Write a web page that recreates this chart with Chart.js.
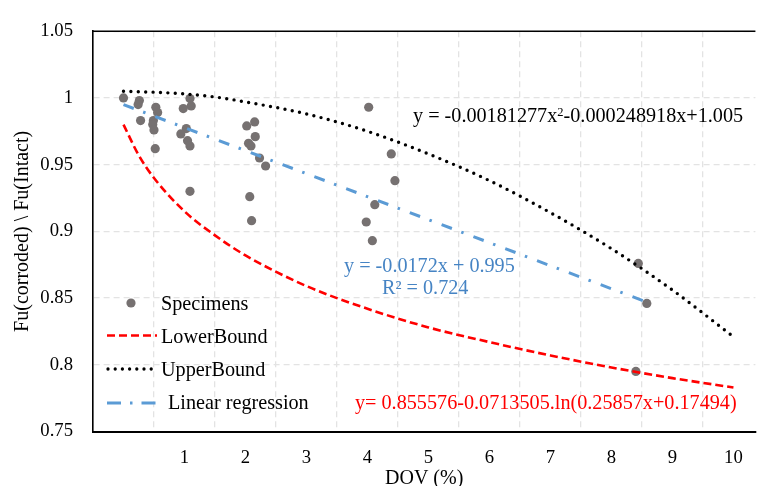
<!DOCTYPE html>
<html>
<head>
<meta charset="utf-8">
<script src="https://cdn.jsdelivr.net/npm/chart.js@4.4.1/dist/chart.umd.min.js"></script>
<style>
  html, body { margin: 0; padding: 0; background: #fff; }
  #wrap { position: relative; width: 760px; height: 486px; overflow: hidden; font-family: 'Liberation Serif', 'Times New Roman', serif; }
  #report_chart { position: absolute; left: 0; top: 0; }
  .lbl { position: absolute; white-space: nowrap; font-size: 20.2px; line-height: 24px; color: #000; }
  .sup { font-size: 0.62em; position: relative; top: -0.5em; }
  svg { position: absolute; left: 0; top: 0; }
</style>
</head>
<body>
<div id="wrap">
  <canvas id="report_chart" width="760" height="486"></canvas>
  <svg width="760" height="486">
    <circle cx="131" cy="303" r="4.6" fill="#767171"></circle>
    <line x1="107" y1="335.5" x2="157" y2="335.5" stroke="#ff0000" stroke-width="2.6" stroke-dasharray="8 4"></line>
    <line x1="108" y1="369" x2="157" y2="369" stroke="#000" stroke-width="3.3" stroke-linecap="round" stroke-dasharray="0 7.2"></line>
    <line x1="107" y1="403" x2="157" y2="403" stroke="#5b9bd5" stroke-width="3" stroke-dasharray="14 9 2.5 9"></line>
  </svg>
  <div class="lbl" style="left:161px; top:291px;">Specimens</div>
  <div class="lbl" style="left:161px; top:324px;">LowerBound</div>
  <div class="lbl" style="left:161px; top:357px;">UpperBound</div>
  <div class="lbl" style="left:168px; top:390px;">Linear regression</div>

  <div class="lbl" style="left:413px; top:103px;">y = -0.00181277x<span class="sup">2</span>-0.000248918x+1.005</div>
  <div class="lbl" style="left:344px; top:253px; color:#4684c4;">y = -0.0172x + 0.995</div>
  <div class="lbl" style="left:382px; top:275px; color:#4684c4;">R² = 0.724</div>
  <div class="lbl" style="left:355px; top:390px; color:#ff0000;">y= 0.855576-0.0713505.ln(0.25857x+0.17494)</div>
</div>
<script>
// specimens
var specX = [0.0, 0.26, 0.24, 0.28, 0.53, 0.56, 0.49, 0.48, 0.50, 0.52,
             1.09, 1.11, 0.98, 1.03, 0.94, 1.05, 1.09, 1.09,
             2.02, 2.15, 2.16, 2.05, 2.09, 2.23, 2.33, 2.07, 2.10,
             4.02, 4.39, 4.45, 4.12, 3.98, 4.08,
             8.44, 8.58, 8.40];
var specY = [1.0, 0.998, 0.995, 0.983, 0.993, 0.989, 0.983, 0.980, 0.976, 0.962,
             0.9995, 0.994, 0.992, 0.977, 0.973, 0.968, 0.964, 0.930,
             0.979, 0.982, 0.971, 0.966, 0.964, 0.955, 0.949, 0.926, 0.908,
             0.993, 0.958, 0.938, 0.920, 0.907, 0.893,
             0.876, 0.846, 0.795];

// bound curves, values
var boundX = [0, 0.25, 0.5, 1, 1.5, 2, 3, 4, 5, 6, 7, 8, 9, 10];
var lowerY = [0.980, 0.957, 0.940, 0.915, 0.897, 0.882, 0.859, 0.842, 0.828, 0.817, 0.807, 0.798, 0.790, 0.783];
var upperY = [1.005, 1.0046, 1.0043, 1.003, 1.0007, 0.997, 0.988, 0.975, 0.958, 0.938, 0.914, 0.887, 0.856, 0.821];

// linear regression ends
var regX = [0, 8.58];
var regY = [0.995, 0.847];

var xTicks = [0, 1, 2, 3, 4, 5, 6, 7, 8, 9, 10];

var serif = "'Liberation Serif', 'Times New Roman', serif";

function toPoints(xs, ys) {
    var pts = [];
    for (var i = 0; i < xs.length; i++) {
        pts.push({x: xs[i], y: ys[i]});
    }
    return pts;
}

var topBorder = {
    id: 'topBorder',
    afterDraw: function(chart) {
        var ctx = chart.ctx, a = chart.chartArea;
        ctx.save();
        ctx.strokeStyle = '#000';
        ctx.lineWidth = 1.6;
        ctx.beginPath();
        ctx.moveTo(a.left, a.top);
        ctx.lineTo(a.right, a.top);
        ctx.stroke();
        ctx.restore();
    }
};

var ctx = document.getElementById('report_chart').getContext('2d');
var chart_object = new Chart(ctx, {
    type: 'scatter',
    data: {
        datasets: [{
            label: 'Specimens',
            data: toPoints(specX, specY),
            backgroundColor: '#767171',
            borderWidth: 0,
            pointRadius: 4.6,
            order: 5
        }, {
            label: 'LowerBound',
            data: toPoints(boundX, lowerY),
            showLine: true,
            borderColor: '#ff0000',
            borderWidth: 2.6,
            borderDash: [8, 4],
            pointRadius: 0,
            cubicInterpolationMode: 'monotone',
            order: 3
        }, {
            label: 'UpperBound',
            data: toPoints(boundX, upperY),
            showLine: true,
            borderColor: '#000',
            borderWidth: 3.4,
            borderDash: [0, 7.4],
            borderCapStyle: 'round',
            pointRadius: 0,
            cubicInterpolationMode: 'monotone',
            order: 2
        }, {
            label: 'Linear regression',
            data: toPoints(regX, regY),
            showLine: true,
            borderColor: '#5b9bd5',
            borderWidth: 3,
            borderDash: [11, 10, 2.5, 10.5],
            pointRadius: 0,
            order: 1
        }]
    },
    options: {
        responsive: false,
        animation: false,
        devicePixelRatio: 1,
        layout: { padding: { top: 22.5, right: 0, left: 0, bottom: 0 } },
        plugins: {
            legend: { display: false },
            tooltip: { enabled: false }
        },
        scales: {
            x: {
                type: 'linear',
                min: -0.5,
                max: 10.36,
                afterBuildTicks: function(scale) {
                    scale.ticks = xTicks.map(function(v) { return {value: v}; });
                },
                afterFit: function(scale) { scale.height = 54.5; },
                grid: {
                    offset: true,
                    color: '#e3e3e3',
                    lineWidth: 1.3,
                    drawTicks: false
                },
                border: { display: true, color: '#000', width: 2, dash: [6, 4] },
                ticks: {
                    padding: 15,
                    color: '#000',
                    font: { family: serif, size: 18.7 },
                    callback: function(v) { return v === 0 ? '' : v; }
                },
                title: {
                    display: true,
                    text: 'DOV (%)',
                    color: '#000',
                    font: { family: serif, size: 20, lineHeight: 0.7 },
                    padding: { top: 0, bottom: 0 }
                }
            },
            y: {
                min: 0.75,
                max: 1.05,
                afterFit: function(scale) { scale.width = 93; },
                ticks: {
                    stepSize: 0.05,
                    padding: 20,
                    color: '#000',
                    font: { family: serif, size: 18.7 },
                    callback: function(v) { return String(parseFloat(v.toFixed(2))); }
                },
                grid: {
                    color: '#e3e3e3',
                    lineWidth: 1.3,
                    drawTicks: false
                },
                border: { display: true, color: '#000', width: 1.6, dash: [6, 4] },
                title: {
                    display: true,
                    text: 'Fu(corroded) \\ Fu(Intact)',
                    color: '#000',
                    font: { family: serif, size: 20, lineHeight: 1.2 },
                    padding: { top: 11, bottom: 0 }
                }
            }
        }
    },
    plugins: [topBorder]
});
</script>
</body>
</html>
